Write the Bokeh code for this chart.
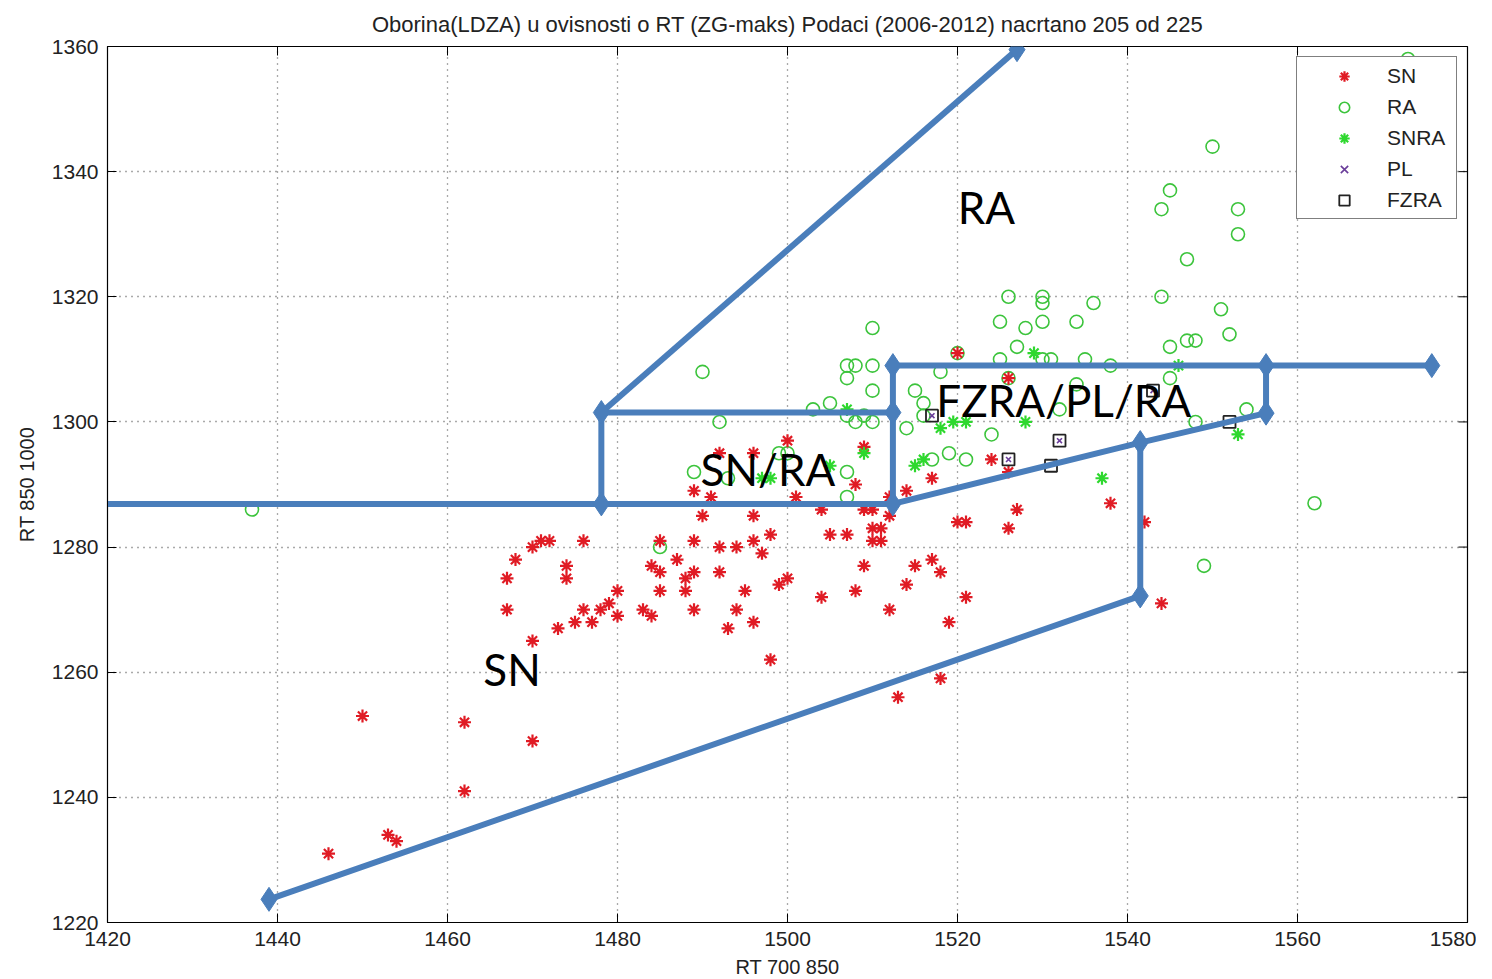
from bokeh.plotting import figure
from bokeh.models import FixedTicker, Legend, LegendItem, ColumnDataSource
from bokeh.embed import file_html
from bokeh.resources import INLINE
from bokeh.core.properties import value

# ---------------- data ----------------
title_text = "Oborina(LDZA) u ovisnosti o RT (ZG-maks) Podaci (2006-2012) nacrtano 205 od 225"
x_ticks = [1420, 1440, 1460, 1480, 1500, 1520, 1540, 1560, 1580]
y_ticks = [1220, 1240, 1260, 1280, 1300, 1320, 1340, 1360]

sn_x = [1446, 1450, 1453, 1454, 1462, 1462, 1470, 1470, 1473, 1475, 1477, 1476, 1478, 1479, 1480, 1480,
        1467, 1467, 1468, 1470, 1471, 1472, 1476, 1474, 1474,
        1500, 1492, 1496, 1509, 1489, 1491, 1501, 1508, 1514, 1512,
        1490, 1496, 1504, 1509, 1510, 1512,
        1498, 1505, 1507, 1510, 1511, 1510, 1511,
        1485, 1489, 1492, 1494, 1496, 1497,
        1487, 1484, 1485, 1489, 1488, 1492, 1500, 1499,
        1509, 1515, 1514, 1508, 1504, 1512,
        1485, 1488, 1495, 1483, 1484, 1489, 1494, 1496, 1493, 1498, 1513,
        1520, 1521, 1527, 1526, 1538, 1542, 1517, 1518, 1521, 1519, 1544, 1518,
        1520, 1526, 1524, 1526, 1517]
sn_y = [1231, 1253, 1234, 1233, 1252, 1241, 1249, 1265, 1267, 1268, 1268, 1270, 1270, 1271, 1273, 1269,
        1270, 1275, 1278, 1280, 1281, 1281, 1281, 1277, 1275,
        1297, 1295, 1295, 1296, 1289, 1288, 1288, 1290, 1289, 1288,
        1285, 1285, 1286, 1286, 1286, 1285,
        1282, 1282, 1282, 1283, 1283, 1281, 1281,
        1281, 1281, 1280, 1280, 1281, 1279,
        1278, 1277, 1276, 1276, 1275, 1276, 1275, 1274,
        1277, 1277, 1274, 1273, 1272, 1270,
        1273, 1273, 1273, 1270, 1269, 1270, 1270, 1268, 1267, 1262, 1256,
        1284, 1284, 1286, 1283, 1287, 1284, 1278, 1276, 1272, 1268, 1271, 1259,
        1311, 1307, 1294, 1292, 1291]

ra_x = [1437, 1562, 1549, 1550, 1545, 1544, 1553, 1553, 1547, 1544, 1536, 1534, 1551, 1552, 1545, 1547, 1548,
        1535, 1538, 1531, 1545, 1534, 1554, 1548, 1573,
        1526, 1530, 1530, 1525, 1528, 1530, 1527, 1530, 1525, 1518, 1515, 1516, 1532, 1514, 1516, 1524,
        1519, 1521, 1517,
        1510, 1507, 1508, 1510, 1507, 1510, 1505, 1503, 1507, 1509, 1510, 1508, 1507, 1507,
        1490, 1492, 1499, 1500, 1489, 1493, 1485, 1520, 1526]
ra_y = [1286, 1287, 1277, 1344, 1337, 1334, 1334, 1330, 1326, 1320, 1319, 1316, 1318, 1314, 1312, 1313, 1313,
        1310, 1309, 1310, 1307, 1306, 1302, 1300, 1358,
        1320, 1320, 1319, 1316, 1315, 1316, 1312, 1310, 1310, 1308, 1305, 1303, 1302, 1299, 1301, 1298,
        1295, 1294, 1294,
        1315, 1309, 1309, 1309, 1307, 1305, 1303, 1302, 1301, 1301, 1300, 1300, 1292, 1288,
        1308, 1300, 1295, 1295, 1292, 1291, 1280, 1311, 1307]

snra_x = [1509, 1529, 1546, 1528, 1521, 1519.5, 1516, 1515, 1537, 1553, 1507, 1505, 1498, 1497, 1518]
snra_y = [1295, 1311, 1309, 1300, 1300, 1300, 1294, 1293, 1291, 1298, 1302, 1293, 1291, 1291, 1299]

pl_x = [1517, 1532, 1526, 1543]
pl_y = [1301, 1297, 1294, 1305]

fzra_x = [1517, 1543, 1532, 1526, 1531, 1552]
fzra_y = [1301, 1305, 1297, 1294, 1293, 1300]

# hand-drawn region boundaries (overlay)
boundary_xs = [[1439, 1541.5, 1541.5],
               [1512.4, 1541.5, 1556.3, 1556.3],
               [1512.4, 1575.8],
               [1512.4, 1512.4],
               [1478.1, 1512.4],
               [1478.1, 1478.1],
               [1420, 1512.4],
               [1478.1, 1527]]
boundary_ys = [[1223.7, 1272.2, 1296.7],
               [1286.9, 1296.7, 1301.4, 1309.0],
               [1309.0, 1309.0],
               [1309.0, 1286.9],
               [1301.5, 1301.5],
               [1301.5, 1286.9],
               [1286.9, 1286.9],
               [1301.5, 1359.5]]
vertex_x = [1439, 1541.5, 1541.5, 1556.3, 1556.3, 1575.8, 1512.4, 1512.4, 1512.4, 1478.1, 1478.1, 1527]
vertex_y = [1223.7, 1272.2, 1296.7, 1301.4, 1309.0, 1309.0, 1309.0, 1301.5, 1286.9, 1301.5, 1286.9, 1359.5]

region_text = ["RA", "SN/RA", "FZRA/PL/RA", "SN"]
region_x = [1523.4, 1497.7, 1532.5, 1467.6]
region_y = [1334.4, 1292.5, 1303.5, 1260.5]

# ---------------- figure ----------------
FONT = "Liberation Sans"
X0, X1 = 1420, 1580
Y0, Y1 = 1220, 1360
FW, FH = 1360, 876
p = figure(width=1476, height=963, frame_width=FW, frame_height=FH,
           x_range=(X0, X1), y_range=(Y0, Y1),
           output_backend="svg", toolbar_location=None,
           min_border_left=107, min_border_right=9, min_border_top=46, min_border_bottom=41,
           background_fill_color="white", border_fill_color="white")
p.outline_line_color = "black"
p.outline_line_width = 1.2

p.title.text = title_text
p.title.align = "center"
p.title.text_font = FONT
p.title.text_font_size = "22px"
p.title.text_font_style = "normal"
p.title.text_color = "#222222"
p.title.standoff = 19

for ax in (p.xaxis[0], p.yaxis[0]):
    ax.major_label_text_font = FONT
    ax.major_label_text_font_size = "21px"
    ax.major_label_text_color = "#222222"
    ax.axis_label_text_font = FONT
    ax.axis_label_text_font_size = "20px"
    ax.axis_label_text_font_style = "normal"
    ax.axis_label_text_color = "#222222"
    ax.major_tick_in = 9
    ax.major_tick_out = 0
    ax.minor_tick_line_color = None
    ax.axis_line_color = "black"
    ax.major_tick_line_color = "black"
    ax.major_label_standoff = 9

p.xaxis[0].axis_label_standoff = 7
p.yaxis[0].axis_label_standoff = 11
p.xaxis[0].ticker = FixedTicker(ticks=x_ticks)
p.yaxis[0].ticker = FixedTicker(ticks=y_ticks)
p.xaxis[0].axis_label = "RT 700 850"
p.yaxis[0].axis_label = "RT 850 1000"

# inward ticks on the top and right sides of the box
tick_dx = 9 * (X1 - X0) / FW
tick_dy = 9 * (Y1 - Y0) / FH
p.segment(x0=x_ticks, y0=[Y1] * len(x_ticks), x1=x_ticks, y1=[Y1 - tick_dy] * len(x_ticks),
          line_color="black", line_width=1)
p.segment(x0=[X1] * len(y_ticks), y0=y_ticks, x1=[X1 - tick_dx] * len(y_ticks), y1=y_ticks,
          line_color="black", line_width=1)

p.xgrid.ticker = FixedTicker(ticks=x_ticks)
p.ygrid.ticker = FixedTicker(ticks=y_ticks)
for g in (p.xgrid[0], p.ygrid[0]):
    g.grid_line_color = "#555555"
    g.grid_line_dash = "1 5"
    g.grid_line_width = 1.3

# ---------------- data marks ----------------
r_ra = p.scatter(ra_x, ra_y, marker="circle", size=13, fill_color=None,
                 line_color="#3cc43c", line_width=1.6)
r_sn = p.scatter(sn_x, sn_y, marker="asterisk", size=13, line_color="#e01b24", line_width=2.2)
r_snra = p.scatter(snra_x, snra_y, marker="asterisk", size=13, line_color="#2ed82e", line_width=2.2)
r_fzra = p.scatter(fzra_x, fzra_y, marker="square", size=12, fill_color=None,
                   line_color="#222222", line_width=1.8)
r_pl = p.scatter(pl_x, pl_y, marker="x", size=7, line_color="#6a3d9a", line_width=1.6)

# overlay boundaries
p.multi_line(boundary_xs, boundary_ys, line_color="#4a7ebb", line_width=6)
p.scatter(vertex_x, vertex_y, marker="diamond", size=24, fill_color="#4a7ebb", line_color="#4a7ebb")

src = ColumnDataSource(dict(x=region_x, y=region_y, t=region_text))
p.text(x="x", y="y", text="t", source=src, text_font=value("Lato"), text_font_size="44px",
       text_align="center", text_baseline="middle", text_color="black")

legend = Legend(items=[LegendItem(label="SN", renderers=[r_sn]),
                       LegendItem(label="RA", renderers=[r_ra]),
                       LegendItem(label="SNRA", renderers=[r_snra]),
                       LegendItem(label="PL", renderers=[r_pl]),
                       LegendItem(label="FZRA", renderers=[r_fzra])],
                location="top_right")
legend.margin = 10
legend.padding = 5
legend.spacing = 4
legend.glyph_width = 84
legend.glyph_height = 26
legend.label_height = 27
legend.label_width = 64
legend.label_standoff = 1
legend.label_text_font = FONT
legend.label_text_font_size = "21px"
legend.label_text_color = "#222222"
legend.border_line_color = "black"
legend.border_line_width = 1.3
legend.background_fill_color = "white"
legend.background_fill_alpha = 1.0
p.add_layout(legend, "center")

open("out.html", "w").write(file_html(p, INLINE))
